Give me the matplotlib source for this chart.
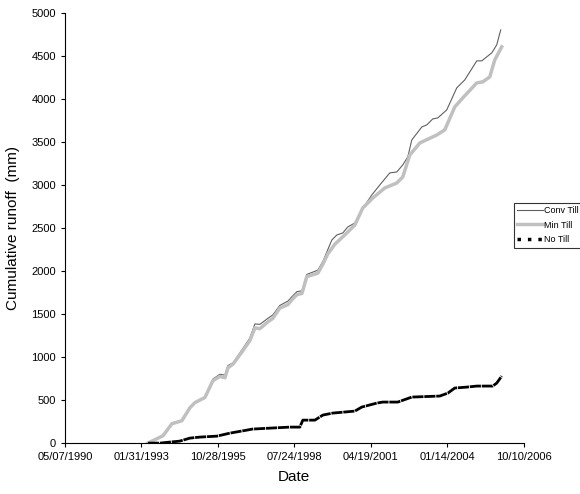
import matplotlib.pyplot as plt
import matplotlib.dates as mdates
from matplotlib.lines import Line2D
import pandas as pd

plt.rcParams['font.family'] = ['Liberation Sans', 'DejaVu Sans']

# dates are Excel day serials
conv_day = [34085, 34281, 34399, 34529, 34634, 34699, 34830, 34935, 35026, 35092,
            35131, 35200, 35327, 35418, 35484, 35549, 35654, 35719, 35810, 35915,
            35967, 36033, 36100, 36163, 36307, 36373, 36438, 36490, 36556, 36634,
            36699, 36791, 36882, 37013, 37118, 37248, 37340, 37418, 37484, 37536,
            37667, 37732, 37810, 37876, 37993, 38124, 38229, 38386, 38451, 38582,
            38647, 38699]
conv_till = [0, 93, 233, 267, 419, 477, 535, 745, 800, 790,
             900, 935, 1100, 1220, 1385, 1380, 1450, 1490, 1600, 1650,
             1700, 1760, 1770, 1960, 2010, 2110, 2250, 2360, 2419, 2442,
             2512, 2558, 2709, 2884, 3000, 3140, 3151, 3233, 3326, 3523,
             3674, 3698, 3767, 3779, 3872, 4128, 4221, 4442, 4442, 4535,
             4628, 4802]

min_day = [34085, 34281, 34399, 34529, 34634, 34699, 34830, 34935, 35026, 35092,
           35131, 35200, 35327, 35418, 35484, 35549, 35654, 35719, 35810, 35915,
           35967, 36033, 36100, 36163, 36307, 36373, 36438, 36529, 36686, 36791,
           36895, 37026, 37183, 37340, 37418, 37510, 37641, 37863, 37967, 38098,
           38203, 38386, 38464, 38556, 38621, 38712]
min_till = [0, 85, 225, 260, 410, 470, 530, 725, 775, 760,
            875, 920, 1075, 1190, 1340, 1330, 1410, 1450, 1570, 1610,
            1665, 1725, 1740, 1935, 1975, 2080, 2200, 2310, 2442, 2535,
            2733, 2849, 2965, 3023, 3093, 3349, 3488, 3581, 3640, 3907,
            4012, 4186, 4198, 4256, 4453, 4605]

no_day = [34085, 34242, 34373, 34500, 34634, 34765, 34987, 35157, 35379, 35450,
          35680, 35941, 36072, 36111, 36268, 36373, 36503, 36791, 36882, 37078,
          37157, 37353, 37536, 37902, 38007, 38098, 38255, 38386, 38595, 38647,
          38712]
no_till = [0, 0, 12, 23, 58, 70, 81, 116, 151, 163,
           174, 186, 186, 267, 267, 326, 349, 372, 419, 465,
           477, 477, 535, 547, 581, 640, 651, 663, 663, 698,
           779]

tick_day = [33000, 34000, 35000, 36000, 37000, 38000, 39000]


def to_date(days):
    return pd.to_datetime(days, unit='D', origin='1899-12-30')


fig = plt.figure(figsize=(5.8, 4.94), dpi=100)
ax = fig.add_axes([0.112, 0.103, 0.791, 0.871])

ax.plot(to_date(conv_day), conv_till, color='#606060', lw=0.8)
ax.plot(to_date(min_day), min_till, color='#c0c0c0', lw=2.5)
ax.plot(to_date(no_day), no_till, color='black', lw=2.0, linestyle=(0, (4, 0.3)))

ax.set_xlim(to_date([33000])[0], to_date([39000])[0])
ax.set_ylim(0, 5000)
ax.set_xticks(to_date(tick_day))
ax.xaxis.set_major_formatter(mdates.DateFormatter('%m/%d/%Y'))
ax.set_yticks(range(0, 5001, 500))

for s in ['top', 'right']:
    ax.spines[s].set_visible(False)
ax.tick_params(labelsize=8, length=3, width=0.8, direction='out')
ax.set_xlabel('Date', fontsize=11, labelpad=6)
ax.set_ylabel('Cumulative runoff  (mm)', fontsize=11, labelpad=8)

handles = [Line2D([], [], color='#606060', lw=0.8),
           Line2D([], [], color='#c0c0c0', lw=2.5),
           Line2D([], [], color='black', lw=2.5, linestyle=(0, (1, 2)))]
leg = fig.legend(handles, ['Conv Till', 'Min Till', 'No Till'],
                 loc='upper left', bbox_to_anchor=(0.886, 0.59),
                 fontsize=6.5, frameon=True, fancybox=False, edgecolor='black',
                 handlelength=2.9, handletextpad=0.05, borderpad=0.35,
                 labelspacing=0.65, borderaxespad=0)
leg.get_frame().set_linewidth(0.8)

fig.savefig('out.png', dpi=100)
